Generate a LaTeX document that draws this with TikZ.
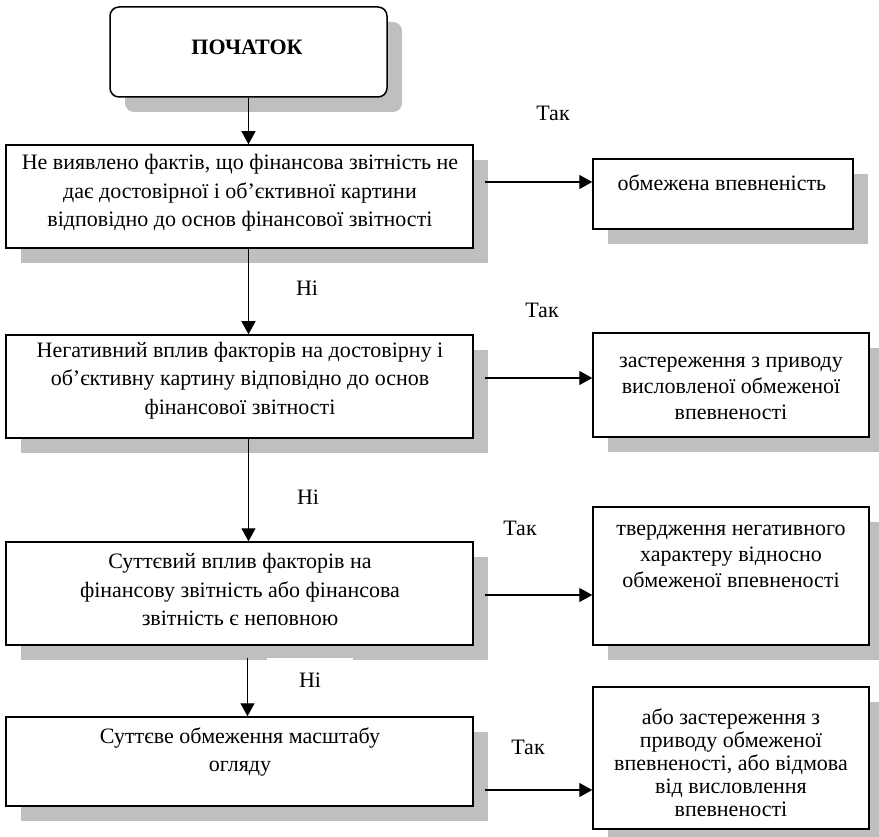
\documentclass[tikz,border=0pt]{standalone}
\usepackage{fontspec}
\setmainfont{Liberation Serif}
\usetikzlibrary{shadows,arrows.meta}
\begin{document}
\begin{tikzpicture}[x=1pt,y=-1pt,
  shd/.style={drop shadow={shadow xshift=15pt,shadow yshift=-15pt,fill=black!25,opacity=1}},
  box/.style={draw=black,line width=1.5pt,fill=white,inner sep=0pt,shd},
  txt/.style={align=center,inner sep=0pt,font=\fontsize{22}{28.5}\selectfont},
  rtxt/.style={align=center,inner sep=0pt,font=\fontsize{22}{26}\selectfont},
  lbl/.style={inner sep=0pt,font=\fontsize{22}{26}\selectfont},
  arr/.style={line width=1.3pt,-{Triangle[length=13pt,width=14pt]}}]
\useasboundingbox (0,0) rectangle (879,837);
% start
\node[box,rounded corners=9pt,minimum width=277pt,minimum height=90pt] (st) at (248.5,52) {};
\node[font=\fontsize{22}{26}\selectfont\bfseries,inner sep=0pt] (stt) at (247,47) {ПОЧАТОК};
% left boxes
\node[box,minimum width=467pt,minimum height=103pt] (b1) at (239.5,196.5) {};
\node[txt] (t1) at (240,193) {Не виявлено фактів, що фінансова звітність не\\дає достовірної і об’єктивної картини\\відповідно до основ фінансової звітності};
\node[box,minimum width=467pt,minimum height=103pt] (b2) at (239.5,386.5) {};
\node[txt] (t2) at (240,380.5) {Негативний вплив факторів на достовірну і\\об’єктивну картину відповідно до основ\\фінансової звітності};
\node[box,minimum width=467pt,minimum height=103pt] (b3) at (239.5,593.5) {};
\node[txt] (t3) at (240,589.5) {Суттєвий вплив факторів на\\фінансову звітність або фінансова\\звітність є неповною};
\node[box,minimum width=467pt,minimum height=89pt] (b4) at (239.5,761.5) {};
\node[txt] (t4) at (240,752) {Суттєве обмеження масштабу\\огляду};
% right boxes
\node[box,minimum width=260pt,minimum height=70pt] (r1) at (723,194) {};
\node[rtxt] (u1) at (722,183) {обмежена впевненість};
\node[box,minimum width=276pt,minimum height=104pt] (r2) at (731,385) {};
\node[rtxt] (u2) at (731,388) {застереження з приводу\\висловленої обмеженої\\впевненості};
\node[box,minimum width=276pt,minimum height=138pt] (r3) at (731,576) {};
\node[rtxt] (u3) at (731,556) {твердження негативного\\характеру відносно\\обмеженої впевненості};
\node[box,minimum width=276pt,minimum height=142pt] (r4) at (731,758) {};
\node[align=center,inner sep=0pt,font=\fontsize{22}{23}\selectfont] (u4) at (731,763) {або застереження з\\приводу обмеженої\\впевненості, або відмова\\від висловлення\\впевненості};
% labels
\node[lbl] (y1) at (553,113) {Так};
\node[lbl] (y2) at (542,310) {Так};
\node[lbl] (y3) at (520,528) {Так};
\node[lbl] (y4) at (528,747) {Так};
\node[lbl] (n1) at (307,288) {Ні};
\node[lbl] (n2) at (308,497) {Ні};
\node[lbl,fill=white,minimum width=86pt,minimum height=44pt] (n3) at (310,680) {Ні};
% vertical arrows
\coordinate (c34) at (247.5,658);
\draw[arr] (st.south) -- (st.south |- b1.north);
\draw[arr] (b1.south -| st.south) -- (b2.north -| st.south);
\draw[arr] (b2.south -| st.south) -- (b3.north -| st.south);
\draw[arr] (c34) -- (c34 |- b4.north);
% horizontal arrows
\coordinate (s1) at (485,182);
\coordinate (s2) at (485,378);
\coordinate (s3) at (485,595);
\coordinate (s4) at (485,790);
\draw[arr] (s1) -- (r1.west |- s1);
\draw[arr] (s2) -- (r2.west |- s2);
\draw[arr] (s3) -- (r3.west |- s3);
\draw[arr] (s4) -- (r4.west |- s4);
\end{tikzpicture}
\end{document}
